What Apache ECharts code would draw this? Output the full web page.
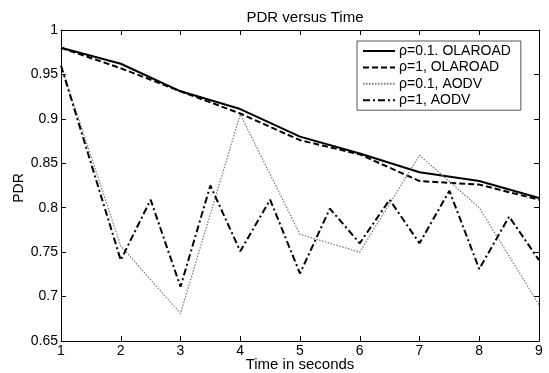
<!DOCTYPE html>
<html><head><meta charset="utf-8">
<script src="https://cdn.jsdelivr.net/npm/echarts@6/dist/echarts.min.js"></script>
<style>html,body{margin:0;padding:0;background:#fff}#c{width:549px;height:373px}</style>
</head><body><div id="c"></div>
<script>
const timeX = [1, 2, 3, 4, 5, 6, 7, 8, 9];
const timeXHalf = [1, 2, 2.5, 3, 3.5, 4, 4.5, 5, 5.5, 6, 6.5, 7, 7.5, 8, 8.5, 9];
const olaroad01 = [0.98, 0.962, 0.931, 0.911, 0.88, 0.861, 0.84, 0.83, 0.811];
const olaroad1 = [0.98, 0.957, 0.931, 0.906, 0.876, 0.86, 0.83, 0.826, 0.809];
const aodv01 = [0.96, 0.757, 0.681, 0.905, 0.77, 0.75, 0.859, 0.80, 0.691];
const aodv1 = [0.96, 0.741, 0.809, 0.711, 0.825, 0.751, 0.809, 0.726, 0.799, 0.76, 0.809, 0.76, 0.819, 0.731, 0.79, 0.741];
const seriesNames = ['ρ=0.1. OLAROAD', 'ρ=1, OLAROAD', 'ρ=0.1, AODV', 'ρ=1, AODV'];
const titleText = 'PDR versus Time';
const xName = 'Time in seconds';
const yName = 'PDR';

const pair = (xs, ys) => xs.map((x, i) => [x, ys[i]]);
const font = 'Arial, "Liberation Sans", sans-serif';
const chart = echarts.init(document.getElementById('c'));
const axisCommon = {
  axisLine: {show: true, onZero: false, lineStyle: {color: '#000', width: 1}},
  axisTick: {show: true, inside: true, length: 5, lineStyle: {color: '#000'}},
  splitLine: {show: false}
};
chart.setOption({
  animation: false,
  backgroundColor: '#fff',
  textStyle: {fontFamily: font},
  title: {text: titleText, left: 300, textAlign: 'center', top: 5,
    textStyle: {fontSize: 15, fontWeight: 'normal', color: '#000', fontFamily: font}},
  grid: {left: 61, right: 10, top: 30, bottom: 32},
  legend: {
    orient: 'vertical', left: 357, top: 41, width: 169,
    backgroundColor: '#fff', borderColor: '#555', borderWidth: 1,
    padding: [3, 10, 3, 5], itemGap: 2.4, itemWidth: 32, itemHeight: 14,
    itemStyle: {opacity: 0},
    textStyle: {fontSize: 14, color: '#000', fontFamily: font, padding: [0, 0, 0, -1]},
    data: seriesNames
  },
  graphic: [
    {type: 'text', x: 300, y: 365, style: {text: xName, fill: '#000', font: '15px ' + font,
      textAlign: 'center', textVerticalAlign: 'middle'}},
    {type: 'text', x: 19, y: 188, rotation: Math.PI / 2, style: {text: yName, fill: '#000',
      font: '14px ' + font, textAlign: 'center', textVerticalAlign: 'middle'}}
  ],
  xAxis: [
    Object.assign({type: 'value', min: 1, max: 9, interval: 1, position: 'bottom',
      axisLabel: {fontSize: 14, color: '#000', margin: 3, fontFamily: font}}, axisCommon),
    Object.assign({type: 'value', min: 1, max: 9, interval: 1, position: 'top',
      axisLabel: {show: false}}, axisCommon)
  ],
  yAxis: [
    Object.assign({type: 'value', min: 0.65, max: 1, interval: 0.05, position: 'left',
      axisLabel: {fontSize: 14, color: '#000', margin: 3, fontFamily: font,
        formatter: v => String(+v.toFixed(2))}}, axisCommon),
    Object.assign({type: 'value', min: 0.65, max: 1, interval: 0.05, position: 'right',
      axisLabel: {show: false}}, axisCommon)
  ],
  series: [
    {name: seriesNames[0], type: 'line', symbol: 'none', data: pair(timeX, olaroad01),
      lineStyle: {color: '#000', width: 2, type: 'solid'}, itemStyle: {color: '#000'}},
    {name: seriesNames[1], type: 'line', symbol: 'none', data: pair(timeX, olaroad1),
      lineStyle: {color: '#000', width: 2, type: [6, 3]}, itemStyle: {color: '#000'}},
    {name: seriesNames[2], type: 'line', symbol: 'none', data: pair(timeX, aodv01),
      lineStyle: {color: '#777', width: 1.2, type: [1.5, 1.5]}, itemStyle: {color: '#777'}},
    {name: seriesNames[3], type: 'line', symbol: 'none', data: pair(timeXHalf, aodv1),
      lineStyle: {color: '#000', width: 2, type: [7, 3, 2, 3]}, itemStyle: {color: '#000'}}
  ]
});
</script></body></html>
